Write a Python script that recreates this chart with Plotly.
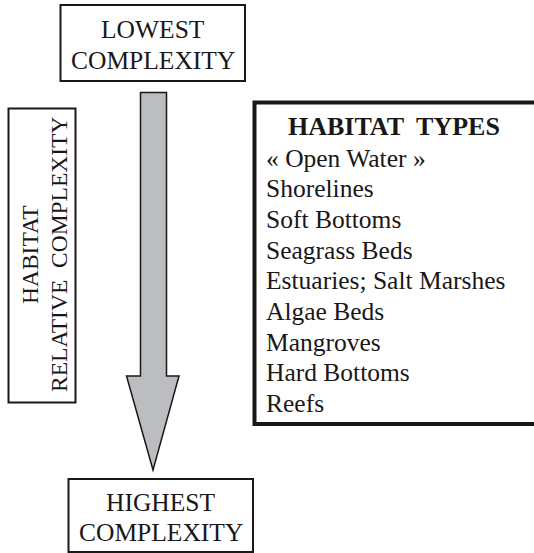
import plotly.graph_objects as go

top_label = ["LOWEST", "COMPLEXITY"]
bottom_label = ["HIGHEST", "COMPLEXITY"]
side_label = ["HABITAT", "RELATIVE  COMPLEXITY"]
legend_title = "HABITAT  TYPES"
habitat_types = ["« Open Water »", "Shorelines", "Soft Bottoms", "Seagrass Beds",
                 "Estuaries; Salt Marshes", "Algae Beds", "Mangroves",
                 "Hard Bottoms", "Reefs"]

FONT = "Liberation Serif, Times New Roman, serif"
INK = "#1a1718"

fig = go.Figure()
fig.add_trace(go.Scatter(x=[10, 530], y=[10, 550], mode="markers",
                         marker=dict(opacity=0), hoverinfo="skip", showlegend=False))

shapes = []
shapes.append(dict(type="rect", x0=60.5, x1=245, y0=5, y1=81,
                   line=dict(color=INK, width=2), fillcolor="white"))
shapes.append(dict(type="rect", x0=68.5, x1=253, y0=479, y1=552,
                   line=dict(color=INK, width=2), fillcolor="white"))
shapes.append(dict(type="rect", x0=8.5, x1=75.5, y0=108.5, y1=402.5,
                   line=dict(color=INK, width=2), fillcolor="white"))
# habitat-types box: open on the right (runs off the page)
shapes.append(dict(type="path", path="M 700 102.5 L 254.5 102.5 L 254.5 424 L 700 424",
                   line=dict(color=INK, width=4)))
arrow = "M 140.5 92.5 L 166.5 92.5 L 166.5 376 L 179 376 L 153 470 L 126.5 376 L 140.5 376 Z"
shapes.append(dict(type="path", path=arrow, fillcolor="#bcbdc0",
                   line=dict(color=INK, width=1.5)))

annotations = []
def txt(x, y, s, size, xanchor="center", angle=0):
    annotations.append(dict(x=x, y=y, text=s, showarrow=False, textangle=angle,
                            font=dict(family=FONT, size=size, color=INK),
                            xanchor=xanchor, yanchor="middle"))

txt(152.5, 29, top_label[0], 25.5)
txt(152.5, 60, top_label[1], 25.5)
txt(160.5, 502, bottom_label[0], 25.5)
txt(160.5, 532, bottom_label[1], 25.5)
txt(30, 255, side_label[0], 23.5, angle=-90)
txt(59, 255, side_label[1], 23.5, angle=-90)
txt(394, 126, "<b>" + legend_title + "</b>", 26)
for i, name in enumerate(habitat_types):
    txt(264, 158 + i * 30.7, name, 25.5, xanchor="left")

fig.update_layout(
    width=534, height=553,
    margin=dict(l=0, r=0, t=0, b=0),
    paper_bgcolor="white", plot_bgcolor="white",
    xaxis=dict(range=[0, 534], visible=False, fixedrange=True),
    yaxis=dict(range=[553, 0], visible=False, fixedrange=True),
    shapes=shapes, annotations=annotations, showlegend=False,
)
fig.write_html("out.html", config={"displayModeBar": False},
               post_script="document.body.style.margin='0px';document.body.style.overflow='hidden';")
